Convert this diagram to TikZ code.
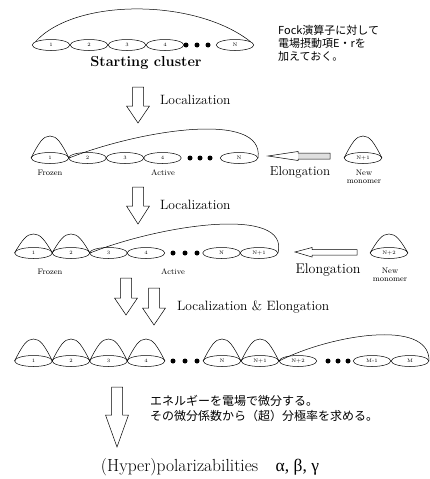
\documentclass[tikz,border=0pt]{standalone}
\usepackage{fontspec}
\newfontfamily\jp{Noto Sans CJK JP}
\newfontfamily\grk{Liberation Serif}
\usetikzlibrary{shapes.geometric,calc}
\tikzset{
 unit/.style={ellipse,draw,line width=0.5pt,minimum width=37.5pt,minimum height=11pt,inner sep=0pt,font=\fontsize{5}{5}\selectfont},
 blk/.style={circle,fill,inner sep=0pt,minimum size=5pt},
 hollow/.style={draw,fill=white,line width=0.5pt},
 lbl/.style={font=\fontsize{13.5}{14}\selectfont,inner sep=0pt},
 small/.style={font=\fontsize{8}{8}\selectfont,inner sep=0pt,align=center},
 jtext/.style={font=\jp\fontsize{11}{13}\selectfont,inner sep=0pt,align=left},
 arcline/.style={draw,line width=0.5pt}
}
\newcommand\hump[2]{\draw[arcline] (#1.west) .. controls +(8,-#2*0.7) and +(-7,0) .. ($(#1.center)+(0,-#2)$) .. controls +(7,0) and +(-8,-#2*0.7) .. (#1.east);}
\newcommand\DnArrow[4]{\draw[hollow] (#1-5.5,#2) -- (#1+5.5,#2) -- (#1+5.5,#3) -- (#1+11.5,#3) -- (#1,#4) -- (#1-11.5,#3) -- (#1-5.5,#3) -- cycle;}
\begin{document}
\begin{tikzpicture}[x=1pt,y=-1pt]
\useasboundingbox[fill=white] (0,0) rectangle (430,479);
% ---------- Row 1
\node[unit] (a1) at (51,45) {1};
\node[unit] (a2) at (89,45) {2};
\node[unit] (a3) at (127,45) {3};
\node[unit] (a4) at (165,45) {4};
\node[blk] (ad1) at (186,45) {};
\node[blk] (ad2) at (197,45) {};
\node[blk] (ad3) at (208,45) {};
\node[unit] (aN) at (235,45) {N};
\draw[arcline] (a1.168) .. controls (75,-2) and (195,-2) .. (aN.12);
\node[font=\bfseries\fontsize{14.5}{15}\selectfont,inner sep=0pt] (start) at (146,63) {Starting cluster};
\node[jtext,anchor=north west] (fock) at (278,25) {Fock演算子に対して\\電場摂動項E・rを\\加えておく。};
% arrow 1
\DnArrow{138}{87}{106}{123}
\node[lbl,anchor=west] (loc1) at (160,100) {Localization};
% ---------- Row 2
\node[unit] (b1) at (50,158) {1};
\node[unit] (b2) at (87.5,158) {2};
\node[unit] (b3) at (125,158) {3};
\node[unit] (b4) at (162.5,158) {4};
\node[blk] (bd1) at (190,158) {};
\node[blk] (bd2) at (200,158) {};
\node[blk] (bd3) at (210,158) {};
\node[unit] (bN) at (239,158) {N};
\hump{b1}{22}
\draw[arcline] (b1.east) .. controls (140,130) and (265,110) .. (bN.east);
\node[small] (fr1) at (50,173) {Frozen};
\node[small] (ac1) at (163,173) {Active};
\fill[gray!25] (298,153) rectangle (330,159);
\draw[line width=0.5pt] (268,156) -- (298,151.5) -- (298,153) -- (330,153) -- (330,159) -- (298,159) -- (298,160.5) -- cycle;
\node[font=\fontsize{13}{13}\selectfont,inner sep=0pt] (el1) at (300,172) {Elongation};
\node[unit] (bM) at (363,158) {N+1};
\hump{bM}{22}
\node[small] (nm1) at (364,176.5) {New\\monomer};
% arrow 2
\DnArrow{138}{187}{206}{224}
\node[lbl,anchor=west] (loc2) at (160,205) {Localization};
% ---------- Row 3
\node[unit] (c1) at (33.5,253) {1};
\node[unit] (c2) at (71,253) {2};
\node[unit] (c3) at (108.5,253) {3};
\node[unit] (c4) at (146,253) {4};
\node[blk] (cd1) at (173,253) {};
\node[blk] (cd2) at (185,253) {};
\node[blk] (cd3) at (197,253) {};
\node[unit] (cN) at (221.5,253) {N};
\node[unit] (cN1) at (259,253) {N+1};
\hump{c1}{19}
\hump{c2}{19}
\draw[arcline] (c2.east) .. controls (160,225) and (290,205) .. (cN1.east);
\node[small] (fr2) at (50,272) {Frozen};
\node[small] (ac2) at (173,272) {Active};
\draw[hollow] (295,252) -- (312,247.5) -- (312,249.5) -- (357,249.5) -- (357,255) -- (312,255) -- (312,257) -- cycle;
\node[font=\fontsize{14}{14}\selectfont,inner sep=0pt] (el2) at (328,270) {Elongation};
\node[unit] (cM) at (389,253) {N+2};
\hump{cM}{19}
\node[small] (nm2) at (390,275) {New\\monomer};
% double arrows
\DnArrow{126}{278}{298}{315}
\DnArrow{154}{288}{308}{325}
\node[lbl,anchor=west] (loc3) at (177,307) {Localization \& Elongation};
% ---------- Row 4
\node[unit] (d1) at (33.5,361) {1};
\node[unit] (d2) at (71,361) {2};
\node[unit] (d3) at (108.5,361) {3};
\node[unit] (d4) at (146,361) {4};
\node[blk] (dd1) at (173,361) {};
\node[blk] (dd2) at (185,361) {};
\node[blk] (dd3) at (197,361) {};
\node[unit] (dN) at (222,361) {N};
\node[unit] (dN1) at (260,361) {N+1};
\node[unit] (dN2) at (298,361) {N+2};
\node[blk] (de1) at (328,361) {};
\node[blk] (de2) at (338,361) {};
\node[blk] (de3) at (348,361) {};
\node[unit] (dM1) at (372,361) {M-1};
\node[unit] (dM) at (410,361) {M};
\hump{d1}{22}
\hump{d2}{22}
\hump{d3}{22}
\hump{d4}{22}
\hump{dN}{22}
\hump{dN1}{22}
\draw[arcline] (dN1.east) .. controls (330,335) and (430,318) .. (dM.east);
% arrow 5
\DnArrow{117}{387}{415}{447}
\node[jtext,font=\jp\fontsize{12}{15}\selectfont,anchor=north west] (diff) at (150,395) {エネルギーを電場で微分する。\\その微分係数から（超）分極率を求める。};
\node[font=\fontsize{17.5}{18}\selectfont,inner sep=0pt] (hyp) at (210,467) {(Hyper)polarizabilities\quad{\grk α, β, γ}};
\end{tikzpicture}
\end{document}
